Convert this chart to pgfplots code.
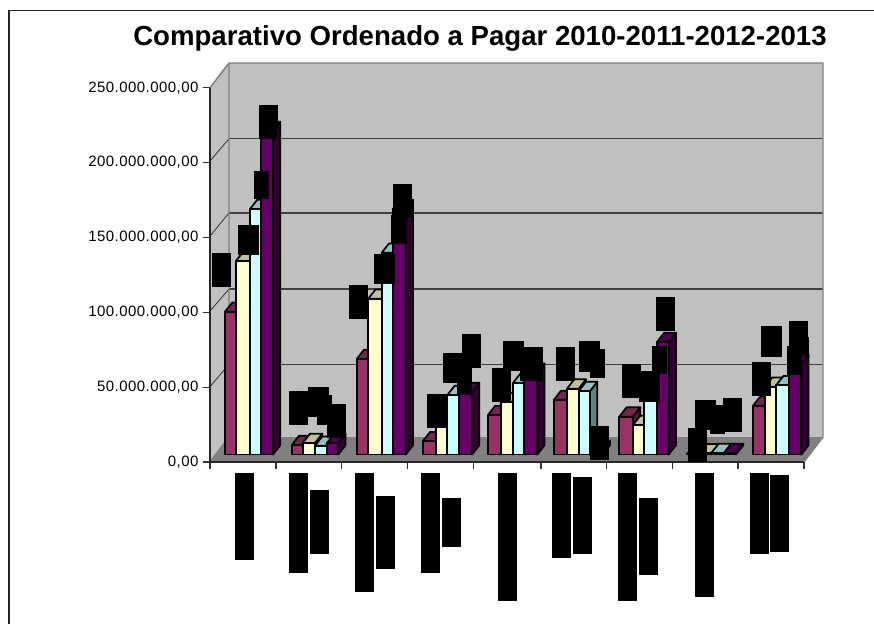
\documentclass[border=0pt]{standalone}
\usepackage{fontspec}
\setmainfont{Liberation Sans}
\usepackage{pgfplots}
\pgfplotsset{compat=1.18}

\definecolor{wall}{HTML}{C0C0C0}
\definecolor{floorc}{HTML}{808080}
\definecolor{redf}{HTML}{993366}
\definecolor{redt}{HTML}{73264D}
\definecolor{reds}{HTML}{4D1933}
\definecolor{yelf}{HTML}{FFFFCC}
\definecolor{yelt}{HTML}{C0C099}
\definecolor{yels}{HTML}{808066}
\definecolor{cyaf}{HTML}{CCFFFF}
\definecolor{cyat}{HTML}{99C0C0}
\definecolor{cyas}{HTML}{668080}
\definecolor{purf}{HTML}{660066}
\definecolor{purt}{HTML}{4D004D}
\definecolor{purs}{HTML}{330033}

% one bar: left, right, value, front/top/side colours
\newcommand{\onebar}[6]{%
  \pgfmathsetmacro{\yt}{#3+5}%
  \pgfmathsetmacro{\yb}{#3+11.2}%
  \pgfmathsetmacro{\xlb}{#1+7.3}%
  \pgfmathsetmacro{\xrb}{#2+7.3}%
  \addplot[draw=black,line width=1.3pt,line join=round,fill=#6]
    coordinates {(#2,5) (\xrb,11.2) (\xrb,\yb) (#2,\yt)} --cycle;
  \addplot[draw=black,line width=1.3pt,line join=round,fill=#5]
    coordinates {(#1,\yt) (\xlb,\yb) (\xrb,\yb) (#2,\yt)} --cycle;
  \addplot[draw=black,line width=1.3pt,line join=round,fill=#4]
    coordinates {(#1,5) (#1,\yt) (#2,\yt) (#2,5)} --cycle;
}
% one category: five bar edges, then the four values (millions)
\newcommand{\cat}[9]{%
  \onebar{#1}{#2}{#6}{redf}{redt}{reds}%
  \onebar{#2}{#3}{#7}{yelf}{yelt}{yels}%
  \onebar{#3}{#4}{#8}{cyaf}{cyat}{cyas}%
  \onebar{#4}{#5}{#9}{purf}{purt}{purs}%
}

\begin{document}
\begin{tikzpicture}
% everything around the axis is laid out in picture pixels
\begin{scope}[x=0.75pt,y=-0.75pt]
  \path[use as bounding box] (0,0) rectangle (874,624);
  \draw[line width=1.1pt,draw=black!85] (9,624) -- (9,10.5) -- (874,10.5);
  \node[font=\fontsize{20.7}{24}\selectfont\bfseries] at (480,38.5) {Comparativo Ordenado a Pagar 2010-2011-2012-2013};
  \fill[wall] (229,63) rectangle (823,437);
  \fill[wall] (210,87.7) -- (229,63) -- (229,437) -- (210,462) -- cycle;
  \fill[floorc] (210,462) -- (229,437) -- (823,437) -- (804,462) -- cycle;
  \foreach \yy/\yf in {138.7/161,213/236,289/311,364.3/386.7}{
    \draw[line width=1pt,draw=black!75] (229,\yy) -- (823,\yy);
    \draw[line width=0.6pt,draw=black!80] (229,\yy) -- (210,\yf);
  }
  \draw[line width=1.1pt,draw=floorc] (210,87.7) -- (229,63) -- (823,63) -- (823,437) -- (804,462);
  \draw[line width=1.1pt,draw=floorc] (229,63) -- (229,437) -- (210,462);
\end{scope}
\begin{axis}[
  at={(157.5pt,-346.5pt)},
  anchor=south west,
  scale only axis,
  width=445.5pt,
  height=280.7pt,
  xmin=210, xmax=804,
  ymin=0, ymax=250,
  clip=false,
  axis x line*=bottom,
  axis y line*=left,
  tick align=outside,
  major tick length=5pt,
  tick style={black!80,line width=0.8pt},
  axis line style={black!85,line width=1.2pt},
  xtick={210,276,341.7,407.7,473.3,541,606.7,672.7,738,804},
  xticklabels={},
  ytick={0,50,100,150,200,250},
  yticklabels={{0,00},{50.000.000,00},{100.000.000,00},{150.000.000,00},{200.000.000,00},{250.000.000,00}},
  yticklabel style={font=\fontsize{11.25}{14}\selectfont\addfontfeature{LetterSpace=3},inner xsep=3.5pt},
]
\cat{225}{236}{250}{261}{273}{95.4}{129.3}{164}{216.1}
\cat{291.7}{302.7}{315}{326.7}{338.3}{6.3}{7.7}{5.9}{7.5}
\cat{356.7}{368.3}{381.7}{392.7}{405.7}{63.8}{104.1}{134.8}{164}
\cat{422.7}{435.7}{447.3}{458.7}{472}{8.8}{19}{39.7}{41.8}
\cat{488}{501.3}{513}{524.3}{537.3}{26.4}{35.1}{47.8}{54.6}
\cat{553.7}{567}{578.7}{590}{602.7}{36.4}{44}{42.4}{3}
\cat{619.3}{633}{644.3}{657}{668.7}{25.3}{19.7}{35.4}{75.2}
\cat{687.3}{699.3}{711.3}{724}{736}{0.5}{0.8}{1}{1}
\cat{753}{765}{776}{789.3}{801.3}{32.6}{45.3}{46.2}{60.5}
\end{axis}
% blacked-out data labels and category names
\begin{scope}[x=0.75pt,y=-0.75pt]
  \foreach \a/\b/\c/\d in {
    212.3/253/231/287, 238/225/259/255, 254/171/269/199, 259.3/105/278/139,
    289/391/308/425, 308/386.7/329/416.7, 317/395/332/425, 327/404/346/438,
    349/285/368/319, 374/254/395/284, 391/215/406/244, 393/184/412/218,
    427/394/446/428, 443/353/464/383, 457/367/472/395, 462/334/481/368,
    492/368/511/402, 503/341/524/371, 520/347/543/381,
    556/347/575/381, 579/341/600/372, 590/349/605/378, 590/426/609/460,
    622/364/641/398, 639/371/660/402, 652/345.7/667/374, 656/296.7/675/330.7,
    688/428/707/462, 695/400/716/430, 710/405/725/434, 723/398/742/432,
    752/362/771/396, 761/326/782/357, 787/346/802/375, 789/321/808/355, 793/337/809/355,
    235/473/254/560, 289/473/308/573, 310/490/329/554, 355/473/374/592, 376/496/395/569,
    421/473/440/573, 442/498/461/547, 498/473/517/601, 552/473/571/558, 573/477/592/554,
    618/473/637/601, 639/498/658/575, 695/473/714/597, 750/473/769/554, 770/475/789/552}
    \fill[black] (\a,\b) rectangle (\c,\d);
\end{scope}
\end{tikzpicture}
\end{document}
